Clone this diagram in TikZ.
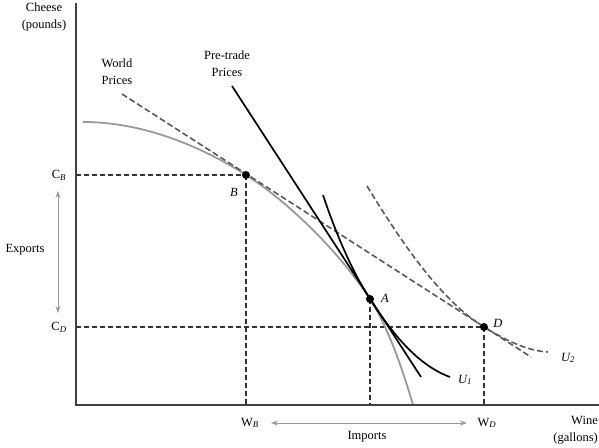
\documentclass[tikz,border=0pt]{standalone}
\usepackage{fontspec}
\setmainfont{Liberation Serif}
\usetikzlibrary{arrows.meta}
\tikzset{
  lbl/.style={font=\fontsize{12.5}{17}\selectfont, inner sep=0pt, align=center},
  axisline/.style={draw=black!75, line width=1.8pt},
  guide/.style={draw=black!80, line width=1.1pt, dash pattern=on 5pt off 3pt},
  worldline/.style={draw=black!65, line width=1.6pt, dash pattern=on 6pt off 3pt},
  solidblack/.style={draw=black, line width=1.7pt},
  ppf/.style={draw=black!40, line width=1.8pt},
  dot/.style={circle, fill=black, inner sep=0pt, minimum size=8pt},
  grayarrow/.style={draw=black!40, line width=0.8pt, {Stealth[length=7pt,width=5pt]}-{Stealth[length=7pt,width=5pt]}}
}
\newcommand{\sbx}[1]{$_{\mathit{#1}}$}
\begin{document}
\begin{tikzpicture}[x=1pt,y=-1pt]
\useasboundingbox (0,0) rectangle (599,447);
% key points
\coordinate (O) at (76,405);
\coordinate (ytop) at (76,3);
\coordinate (xend) at (599,405);
\coordinate (B) at (246,175);
\coordinate (A) at (370,299);
\coordinate (D) at (484,327);
\coordinate (yB) at (76,175);
\coordinate (yD) at (76,327);
\coordinate (xB) at (246,405);
\coordinate (xA) at (370,405);
\coordinate (xD) at (484,405);
\coordinate (ws) at (122,94);
\coordinate (we) at (531,357);
\coordinate (ps) at (232,86);
\coordinate (pe) at (421,377);
\coordinate (ppfs) at (83,122);
\coordinate (ppfe) at (413,405);
\coordinate (u1s) at (323,195);
\coordinate (u1e) at (450,377);
\coordinate (u2s) at (367,186);
\coordinate (u2e) at (548,352);
\coordinate (ex1) at (58,191);
\coordinate (ex2) at (58,313);
\coordinate (im1) at (271,423);
\coordinate (im2) at (467,423);

% guides
\draw[guide] (yB) -- (B);
\draw[guide] (yD) -- (D);
\draw[guide] (B) -- (xB);
\draw[guide] (A) -- (xA);
\draw[guide] (D) -- (xD);

% PPF
\draw[ppf] (ppfs) .. controls (150,122) and (210,152) .. (B)
  .. controls (290,203) and (340,253) .. (A)
  .. controls (385,322) and (400,360) .. (ppfe);

% world price line
\draw[worldline] (ws) -- (we);
% pre-trade line
\draw[solidblack] (ps) -- (pe);
% U1
\draw[solidblack] (u1s) .. controls (338,240) and (355,276) .. (A)
  .. controls (395,338) and (420,366) .. (u1e);
% U2
\draw[worldline] (u2s) .. controls (400,240) and (440,300) .. (D)
  .. controls (510,343) and (530,351) .. (u2e);

% axes
\draw[axisline] (ytop) -- (O) -- (xend);

% dots
\node[dot] (nB) at (B) {};
\node[dot] (nA) at (A) {};
\node[dot] (nD) at (D) {};

% labels
\node[lbl] (cheese) at (44,17) {Cheese\\(pounds)};
\node[lbl] (world) at (117,72) {World\\Prices};
\node[lbl] (pretrade) at (227,64) {Pre-trade\\Prices};
\node[lbl] (lB) at (234,192) {\itshape B};
\node[lbl] (lA) at (385,298) {\itshape A};
\node[lbl] (lD) at (498,323) {\itshape D};
\node[lbl] (CB) at (59,175) {C\sbx{B}};
\node[lbl] (CD) at (59,327) {C\sbx{D}};
\node[lbl] (exports) at (25,250) {Exports};
\node[lbl] (WB) at (250,423) {W\sbx{B}};
\node[lbl] (WD) at (487,423) {W\sbx{D}};
\node[lbl] (imports) at (367,437) {Imports};
\node[lbl, align=right, anchor=east] (wine) at (598,430) {Wine\\(gallons)};
\node[lbl] (U1) at (465,380) {\itshape U\sbx{1}};
\node[lbl] (U2) at (568,358) {\itshape U\sbx{2}};

% gray arrows
\draw[grayarrow] (ex1) -- (ex2);
\draw[grayarrow] (im1) -- (im2);
\end{tikzpicture}
\end{document}
